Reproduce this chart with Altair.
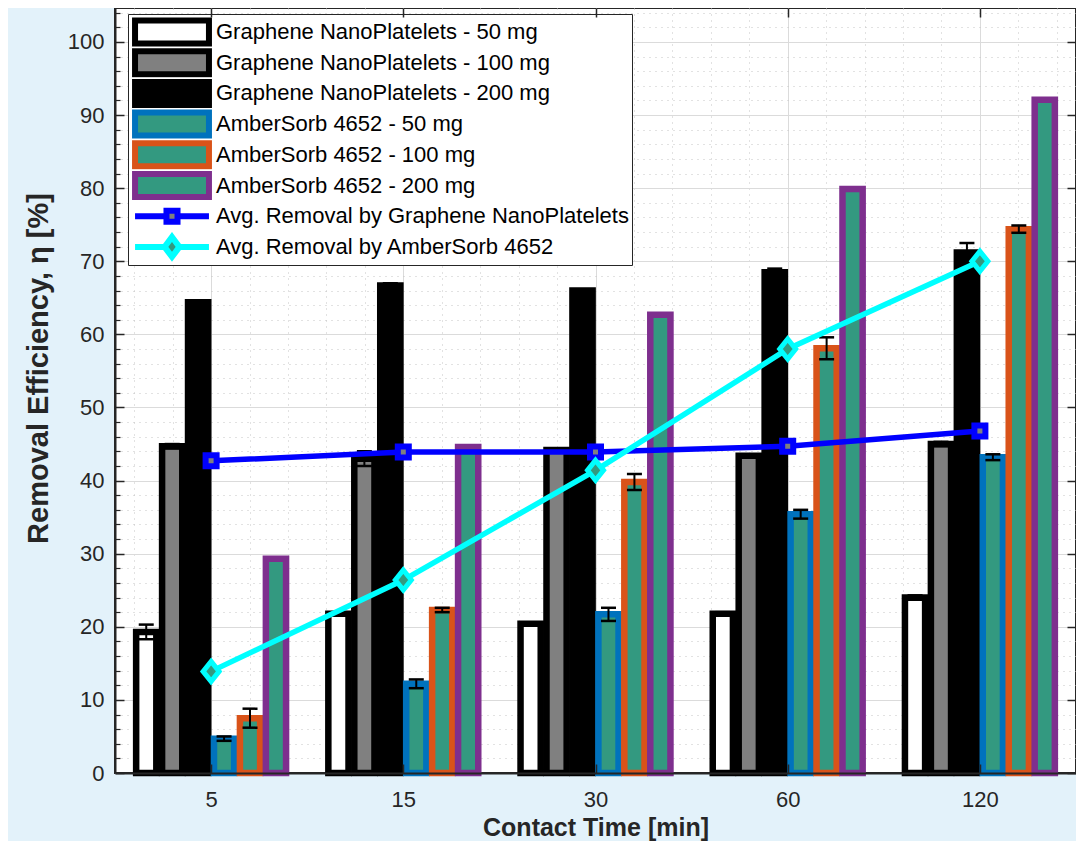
import altair as alt
import pandas as pd

FONT = "Liberation Sans"
TEXT = "#262626"
TEAL = "#339980"

# ---------------- data ----------------
categories = ["5", "15", "30", "60", "120"]
bar_series = [
    "Graphene NanoPlatelets - 50 mg",
    "Graphene NanoPlatelets - 100 mg",
    "Graphene NanoPlatelets - 200 mg",
    "AmberSorb 4652 - 50 mg",
    "AmberSorb 4652 - 100 mg",
    "AmberSorb 4652 - 200 mg",
]
line_series = [
    "Avg. Removal by Graphene NanoPlatelets",
    "Avg. Removal by AmberSorb 4652",
]

gnp_50 = [19.3, 21.8, 20.4, 21.8, 24.0]
gnp_100 = [44.7, 43.0, 44.2, 43.4, 45.0]
gnp_200 = [64.4, 66.7, 66.0, 68.5, 71.2]
as_50 = [4.7, 12.2, 21.7, 35.4, 43.2]
as_100 = [7.5, 22.3, 39.8, 58.1, 74.4]
as_200 = [29.3, 44.6, 62.7, 79.9, 92.1]

gnp_50_err = [1.0, 0.2, 0.0, 0.2, 0.3]
gnp_100_err = [0.3, 1.0, 0.0, 0.0, 0.3]
gnp_200_err = [0.2, 0.3, 0.0, 0.5, 1.3]
as_50_err = [0.3, 0.6, 0.9, 0.6, 0.4]
as_100_err = [1.3, 0.3, 1.1, 1.5, 0.5]
as_200_err = [0.0, 0.0, 0.0, 0.0, 0.0]

avg_gnp = [42.7, 43.9, 43.9, 44.7, 46.8]
avg_as = [13.9, 26.4, 41.4, 58.0, 70.0]

y_major = [0, 10, 20, 30, 40, 50, 60, 70, 80, 90, 100]
y_minor = [v for v in range(2, 105, 2) if v % 10]
x_major = [1, 2, 3, 4, 5]
x_minor = [round(i + d, 1) for i in range(0, 6) for d in (0.6, 0.8, 1.2, 1.4) if 0.5 < i + d < 5.5]

# ---------------- tables ----------------
bar_values = [gnp_50, gnp_100, gnp_200, as_50, as_100, as_200]
bar_errors = [gnp_50_err, gnp_100_err, gnp_200_err, as_50_err, as_100_err, as_200_err]
rows = []
for k, (name, vals, errs) in enumerate(zip(bar_series, bar_values, bar_errors)):
    for i, cat in enumerate(categories):
        rows.append(dict(time=cat, idx=i + 1, k=k, series=name, value=vals[i], err=errs[i]))
bars_df = pd.DataFrame(rows)

avg_rows = []
for name, vals in zip(line_series, [avg_gnp, avg_as]):
    for i, cat in enumerate(categories):
        avg_rows.append(dict(time=cat, idx=i + 1, series=name, value=vals[i]))
avg_df = pd.DataFrame(avg_rows)

all_series = bar_series + line_series
fill_colors = ["#FFFFFF", "#808080", "#000000", TEAL, TEAL, TEAL, "#808080", TEAL]
stroke_colors = ["#000000", "#000000", "#000000", "#0072BD", "#D95319", "#7E2F8E", "#0000FF", "#00FFFF"]
RECT = "M-3.08,-0.96H3.08V0.96H-3.08Z"
LINE_SQ = "M-3.08,0H-0.46M0.46,0H3.08M-0.46,-0.46H0.46V0.46H-0.46Z"
LINE_DIA = "M-3.08,0H-0.62M0.62,0H3.08M0,-0.83L0.62,0L0,0.83L-0.62,0Z"
legend_shapes = [RECT] * 6 + [LINE_SQ, LINE_DIA]
DIAMOND = "M0,-1.25L1,0L0,1.25L-1,0Z"

SLOT = 0.135      # share of one category taken by each bar slot
HALF = 0.0525     # half width of a bar face, in category units

XS = alt.Scale(domain=[0.5, 5.5], nice=False, zero=False)
YS = alt.Scale(domain=[0, 104.65], nice=False, zero=False)

LEG = alt.Legend(
    title=None, orient="none", legendX=13, legendY=6, direction="vertical",
    padding=3, rowPadding=0.7, clipHeight=30, symbolSize=576, symbolStrokeWidth=6,
    symbolOffset=26, labelOffset=29, labelFont=FONT, labelFontSize=22,
    labelColor="#000000", labelLimit=1000, fillColor="#FFFFFF",
    strokeColor=TEXT, cornerRadius=0,
)
FILL = alt.Fill("series:N", scale=alt.Scale(domain=all_series, range=fill_colors), legend=LEG)
STROKE = alt.Stroke("series:N", scale=alt.Scale(domain=all_series, range=stroke_colors), legend=LEG)
SHAPE = alt.Shape("series:N", scale=alt.Scale(domain=all_series, range=legend_shapes), legend=LEG)

label_expr = "[" + ",".join("'%s'" % c for c in categories) + "][datum.value - 1]"

x_minor_grid = alt.Axis(values=x_minor, grid=True, gridColor="#C4C4C4", gridDash=[1, 5], gridWidth=1,
                        labels=False, ticks=False, domain=False, title=None, orient="bottom", zindex=0)
x_major_grid = alt.Axis(values=x_major, grid=True, gridColor="#DBDBDB", gridWidth=1,
                        labels=False, ticks=False, domain=False, title=None, orient="bottom", zindex=0)
x_main = alt.Axis(values=x_major, labelExpr=label_expr, grid=False, ticks=False, tickSize=0,
                  domain=True, domainColor=TEXT, domainWidth=2, labelFont=FONT, labelFontSize=22,
                  labelColor=TEXT, labelPadding=33, labelBaseline="alphabetic",
                  title="Contact Time [min]", titleFont=FONT, titleFontSize=25, titleFontWeight="bold",
                  titleColor=TEXT, titleY=62, titleBaseline="alphabetic", orient="bottom", zindex=1)
x_bot_ticks = alt.Axis(values=x_major, orient="bottom", offset=-9, tickSize=9, ticks=True,
                       tickColor=TEXT, tickWidth=1.5, labels=False, domain=False, grid=False,
                       title=None, zindex=1)
x_top_ticks = alt.Axis(values=x_major, orient="top", offset=-9, tickSize=9, ticks=True,
                       tickColor=TEXT, tickWidth=1.5, labels=False, domain=False, grid=False,
                       title=None, zindex=1)

y_minor_grid = alt.Axis(values=y_minor, grid=True, gridColor="#C4C4C4", gridDash=[1, 5], gridWidth=1,
                        labels=False, ticks=False, domain=False, title=None, orient="left", zindex=0)
y_main = alt.Axis(values=y_major, grid=True, gridColor="#DBDBDB", gridWidth=1, ticks=False, tickSize=0,
                  domain=True, domainColor=TEXT, domainWidth=2, labelFont=FONT, labelFontSize=22,
                  labelColor=TEXT, labelPadding=11, title="Removal Efficiency, η [%]", titleFont=FONT,
                  titleFontSize=29, titleFontWeight="bold", titleColor=TEXT, titleX=-77, titleY=360,
                  titleAngle=270, titleAlign="center", titleBaseline="middle", orient="left", zindex=0)
y_left_major = alt.Axis(values=y_major, orient="left", offset=-9, tickSize=9, ticks=True, tickColor=TEXT,
                        tickWidth=1.5, labels=False, domain=False, grid=False, title=None, zindex=1)
y_left_minor = alt.Axis(values=y_minor, orient="left", offset=-5, tickSize=5, ticks=True, tickColor=TEXT,
                        tickWidth=1.2, labels=False, domain=False, grid=False, title=None, zindex=1)
y_right_major = alt.Axis(values=y_major, orient="right", offset=-9, tickSize=9, ticks=True, tickColor=TEXT,
                         tickWidth=1.5, labels=False, domain=False, grid=False, title=None, zindex=1)

xc_expr = "datum.idx + (datum.k - 2.5) * %f" % SLOT
base = alt.Chart(bars_df).transform_calculate(xc=xc_expr).transform_calculate(
    x0="datum.xc - %f" % HALF, x1="datum.xc + %f" % HALF,
    lo="datum.value - datum.err", hi="datum.value + datum.err",
)

bars = base.mark_bar(strokeWidth=6.5, strokeJoin="miter").encode(
    x=alt.X("x0:Q", scale=XS, axis=x_minor_grid),
    x2="x1:Q",
    y=alt.Y("value:Q", scale=YS, stack=None, axis=y_main),
    y2=alt.datum(0),
    fill=FILL, stroke=STROKE,
)

err = base.transform_filter("datum.err > 0")
err_rule = err.mark_rule(color="#000000", strokeWidth=2).encode(
    x=alt.X("xc:Q", scale=XS, axis=x_major_grid),
    y=alt.Y("lo:Q", scale=YS, axis=y_minor_grid),
    y2="hi:Q",
)
cap_lo = err.mark_tick(orient="horizontal", size=15, thickness=2.5, color="#000000", opacity=1).encode(
    x=alt.X("xc:Q", scale=XS, axis=x_main),
    y=alt.Y("lo:Q", scale=YS, axis=y_left_major),
)
cap_hi = err.mark_tick(orient="horizontal", size=15, thickness=2.5, color="#000000", opacity=1).encode(
    x=alt.X("xc:Q", scale=XS, axis=x_bot_ticks),
    y=alt.Y("hi:Q", scale=YS, axis=y_left_minor),
)

avg = alt.Chart(avg_df)
lines = avg.mark_line(strokeWidth=5.5).encode(
    x=alt.X("idx:Q", scale=XS, axis=x_top_ticks),
    y=alt.Y("value:Q", scale=YS, axis=y_right_major),
    stroke=STROKE,
)
pts_gnp = avg.transform_filter(alt.datum.series == line_series[0]).mark_point(
    shape="square", size=121, strokeWidth=6, opacity=1, filled=False
).encode(
    x=alt.X("idx:Q", scale=XS, axis=None),
    y=alt.Y("value:Q", scale=YS, axis=None),
    fill=FILL, stroke=STROKE,
)
pts_as = avg.transform_filter(alt.datum.series == line_series[1]).mark_point(
    shape=DIAMOND, size=256, strokeWidth=5, opacity=1, filled=False
).encode(
    x=alt.X("idx:Q", scale=XS, axis=None),
    y=alt.Y("value:Q", scale=YS, axis=None),
    fill=FILL, stroke=STROKE,
)
legend_shape = avg.transform_filter("false").mark_point(opacity=1).encode(
    x=alt.X("idx:Q", scale=XS, axis=None),
    y=alt.Y("value:Q", scale=YS, axis=None),
    shape=SHAPE, fill=FILL, stroke=STROKE,
)

chart = (
    alt.layer(bars, err_rule, cap_lo, cap_hi, lines, pts_gnp, pts_as, legend_shape)
    .resolve_axis(x="independent", y="independent")
    .properties(
        width=961, height=765,
        autosize=alt.AutoSizeParams(type="none"),
        padding={"left": 107, "top": 0, "right": 0, "bottom": 68},
        background="#E3F2FA",
    )
    .configure_view(stroke=TEXT, strokeWidth=2, fill="#FFFFFF")
    .configure_axis(labelFont=FONT, titleFont=FONT)
)

chart.save("out.html", embed_options={"renderer": "svg", "actions": False})
